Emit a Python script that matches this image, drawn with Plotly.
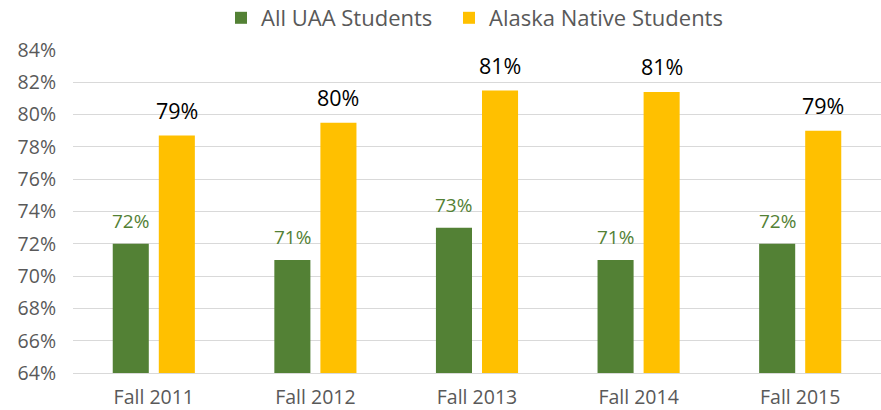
import plotly.graph_objects as go

categories = ["Fall 2011", "Fall 2012", "Fall 2013", "Fall 2014", "Fall 2015"]
all_uaa = [72.0, 71.0, 73.0, 71.0, 72.0]
alaska_native = [78.7, 79.5, 81.5, 81.4, 79.0]
all_uaa_labels = ["72%", "71%", "73%", "71%", "72%"]
alaska_native_labels = ["79%", "80%", "81%", "81%", "79%"]
y_ticks = [64, 66, 68, 70, 72, 74, 76, 78, 80, 82, 84]
y_tick_labels = ["64%", "66%", "68%", "70%", "72%", "74%", "76%", "78%", "80%", "82%", "84%"]

GREEN = "#538135"
YELLOW = "#FFC000"
GRAY = "#595959"
FONT = "Open Sans"

fig = go.Figure()
fig.add_trace(go.Bar(name="All UAA Students", x=categories, y=all_uaa,
                     marker=dict(color=GREEN, line=dict(width=0)), legend="legend"))
fig.add_trace(go.Bar(name="Alaska Native Students", x=categories, y=alaska_native,
                     marker=dict(color=YELLOW, line=dict(width=0)), legend="legend2"))

BARGAP = 0.43
plot_w = 881 - 73
slot = (1 - BARGAP) / 2 * plot_w / len(categories)

annotations = []
for c, v, t in zip(categories, all_uaa, all_uaa_labels):
    annotations.append(dict(x=c, y=v, text=t, showarrow=False, xshift=-slot / 2,
                            yanchor="middle", yshift=23,
                            font=dict(family=FONT, size=19, color=GREEN)))
for c, v, t in zip(categories, alaska_native, alaska_native_labels):
    annotations.append(dict(x=c, y=v, text=t, showarrow=False, xshift=slot / 2,
                            yanchor="middle", yshift=25,
                            font=dict(family=FONT, size=21.5, color="#000000")))

legend_common = dict(orientation="h", xanchor="left",
                     xref="container", yref="container",
                     y=(410 - 18) / 410, yanchor="middle",
                     font=dict(family=FONT, size=22, color=GRAY),
                     itemwidth=30, bgcolor="rgba(0,0,0,0)")

fig.update_layout(
    width=881, height=410,
    margin=dict(l=73, r=0, t=50, b=37, autoexpand=False),
    barmode="group", bargap=BARGAP, bargroupgap=0.217,
    plot_bgcolor="white", paper_bgcolor="white",
    font=dict(family=FONT, color=GRAY, size=19.5),
    legend=dict(x=221 / 881, **legend_common),
    legend2=dict(x=449 / 881, **legend_common),
    annotations=annotations,
    showlegend=True,
)
fig.update_yaxes(range=[64, 84], tickvals=y_ticks, ticktext=y_tick_labels,
                 showgrid=True, gridcolor="#D9D9D9", gridwidth=1.3,
                 zeroline=False, ticklabelstandoff=16,
                 tickfont=dict(family=FONT, size=19.5, color=GRAY))
fig.update_xaxes(showline=True, linecolor="#D9D9D9", linewidth=1.3,
                 ticks="", ticklabelstandoff=6,
                 tickfont=dict(family=FONT, size=19.5, color=GRAY))

fig.write_html("out.html")
